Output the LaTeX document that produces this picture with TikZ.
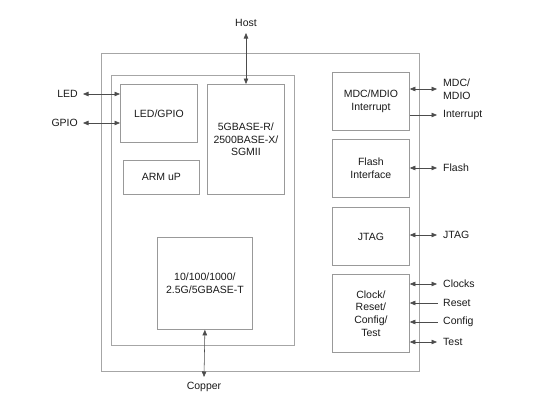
\documentclass[tikz,border=0pt]{standalone}
\usepackage{fontspec}
\setmainfont{Liberation Sans}
\usetikzlibrary{arrows.meta}
\begin{document}
\begin{tikzpicture}[x=1pt,y=-1pt,
  blk/.style={draw=black!40,line width=0.8pt,inner sep=0pt,anchor=north west,align=center,font=\fontsize{10.5}{12.6}\selectfont,text=black!90},
  frame/.style={draw=black!35,line width=0.8pt},
  lbl/.style={font=\fontsize{10.5}{12.6}\selectfont,text=black!90,inner sep=0pt},
  sig/.style={draw=black!70,line width=0.55pt},
  bi/.style={sig,{Triangle[length=5.5pt,width=4.5pt]}-{Triangle[length=5.5pt,width=4.5pt]}},
  toR/.style={sig,-{Triangle[length=5.5pt,width=4.5pt]}},
  toL/.style={sig,{Triangle[length=5.5pt,width=4.5pt]}-},
]
\useasboundingbox (0,0) rectangle (542,415);
\draw[frame] (101,53) rectangle (419,371);
\draw[frame] (111,75) rectangle (294,345);
\node[blk,minimum width=77pt,minimum height=58pt] (led) at (120,84) {LED/GPIO};
\node[blk,minimum width=76pt,minimum height=34pt] (arm) at (123,160) {ARM uP};
\node[blk,minimum width=77pt,minimum height=110pt] (serdes) at (207,84) {5GBASE-R/\\2500BASE-X/\\SGMII};
\node[blk,minimum width=95pt,minimum height=92pt] (phy) at (157,237) {10/100/1000/\\2.5G/5GBASE-T};
\node[blk,minimum width=77pt,minimum height=58pt] (mdio) at (332,72) {MDC/MDIO\\Interrupt};
\node[blk,minimum width=77pt,minimum height=58pt] (flash) at (332,139) {Flash\\Interface};
\node[blk,minimum width=77pt,minimum height=58pt] (jtag) at (332,207) {JTAG};
\node[blk,minimum width=77pt,minimum height=78pt] (clk) at (332,274) {Clock/\\Reset/\\Config/\\Test};

\node[lbl] (host) at (246,23) {Host};
\node[lbl,anchor=east] (ledl) at (78,94) {LED};
\node[lbl,anchor=east] (gpiol) at (78,123) {GPIO};
\node[lbl] (copper) at (204,387) {Copper};
\node[lbl,anchor=west,align=left] (mdiol) at (443,89) {MDC/\\MDIO};
\node[lbl,anchor=west] (intl) at (443,115) {Interrupt};
\node[lbl,anchor=west] (flashl) at (443,168) {Flash};
\node[lbl,anchor=west] (jtagl) at (443,235) {JTAG};
\node[lbl,anchor=west] (clkl) at (443,284) {Clocks};
\node[lbl,anchor=west] (rstl) at (443,303) {Reset};
\node[lbl,anchor=west] (cfgl) at (443,322) {Config};
\node[lbl,anchor=west] (testl) at (443,342) {Test};

\draw[bi] (host.south |- 0,33) -- (host.south |- serdes.north);
\draw[bi] (83,94) -- (led.west |- 0,94);
\draw[bi] (83,123) -- (led.west |- 0,123);
\draw[bi] (phy.south) -- (204,377);
\draw[bi] (mdio.east |- 0,89) -- (437,89);
\draw[toR] (mdio.east |- 0,115) -- (437,115);
\draw[bi] (flash.east |- 0,168) -- (437,168);
\draw[bi] (jtag.east |- 0,235) -- (437,235);
\draw[bi] (clk.east |- 0,284) -- (437,284);
\draw[toL] (clk.east |- 0,303) -- (438,303);
\draw[toL] (clk.east |- 0,322) -- (438,322);
\draw[bi] (clk.east |- 0,342) -- (437,342);
\end{tikzpicture}
\end{document}
